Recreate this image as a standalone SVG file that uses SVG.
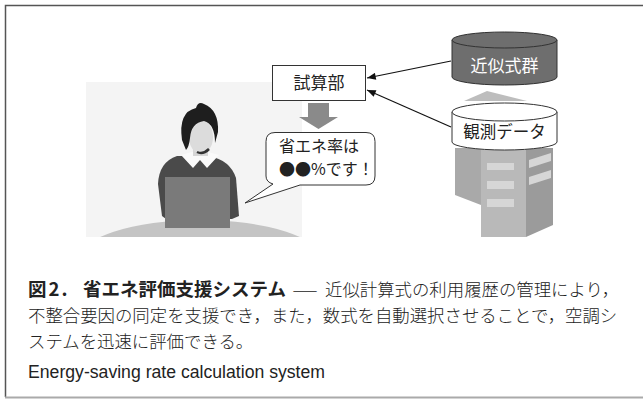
<svg xmlns="http://www.w3.org/2000/svg" width="643" height="399" viewBox="0 0 643 399">
  <defs>
    <style>
      .jp { font-family: "Noto Sans CJK JP", "Noto Sans", sans-serif; fill: #222; }
      .lbl { font-size: 16.5px; }
      .cap { font-size: 17.4px; font-weight: 300; }
      .capb { font-weight: 700; font-size: 18.5px; }
      .en { font-family: "Liberation Sans", Arial, sans-serif; font-size: 17.5px; fill: #222; }
      .edge { stroke: #111; stroke-width: 1.2; fill: none; marker-end: url(#head); }
      .cyl { stroke: #333; stroke-width: 1; }
    </style>
    <marker id="head" viewBox="0 0 10 8" refX="10" refY="4" markerWidth="11" markerHeight="7" markerUnits="userSpaceOnUse" orient="auto">
      <path d="M0,0 L10,4 L0,8 Z" fill="#111"/>
    </marker>
    <clipPath id="scene">
      <rect x="86" y="82" width="216" height="155"/>
    </clipPath>
  </defs>

  <rect width="643" height="399" fill="#fff"/>

  <!-- frame -->
  <g id="frame" fill="none">
    <path d="M5.5,397 V5.5 H643" stroke="#555" stroke-width="1.5"/>
    <path d="M5,397.5 H643" stroke="#aaa" stroke-width="2"/>
  </g>

  <!-- user at a laptop -->
  <g id="user" clip-path="url(#scene)">
    <rect x="86" y="82" width="216" height="155" fill="#f4f4f4"/>
    <ellipse cx="200" cy="260" rx="122" ry="40" fill="#c4c4c4"/>
    <!-- torso and arms -->
    <path d="M162,216 L158,184 Q159,162 177,156 L209,156 Q230,160 236,178 L239,216 L232,219 L166,219 Z" fill="#4a4a4a"/>
    <!-- collar -->
    <path d="M181,155 L193,168 L200,160 L207,168 L219,155 L208,152 L192,152 Z" fill="#fafafa"/>
    <!-- neck and face -->
    <rect x="193" y="146" width="15" height="10" fill="#d6d6d6"/>
    <ellipse cx="201" cy="137" rx="12" ry="17" fill="#dcdcdc"/>
    <!-- hair -->
    <path d="M182,140 Q178,112 196,108 Q198,101 204,104 Q219,110 218,132 L215,143 Q215,124 204,121 Q191,123 190,138 Q189,147 186,150 Z" fill="#1e1e1e"/>
    <!-- headset mic -->
    <path d="M197,152 Q203,155 209,149" stroke="#333" stroke-width="2.5" fill="none"/>
    <!-- laptop -->
    <rect x="165" y="177" width="65" height="51" fill="#7a7a7a"/>
  </g>

  <!-- building under the data stores -->
  <g id="building">
    <polygon points="464,101 487,91 527,101" fill="#bdbdbd"/>
    <polygon points="455,148 481,148 481,205 455,195" fill="#a9a9a9"/>
    <rect x="481" y="148" width="45" height="89" fill="#b9b9b9"/>
    <polygon points="526,148 553,148 553,225 526,237" fill="#9b9b9b"/>
    <g fill="#d6d6d6">
      <rect x="487" y="163" width="27" height="7"/>
      <rect x="487" y="181" width="27" height="8"/>
      <rect x="487" y="199" width="27" height="8"/>
      <polygon points="529,160 551,153 551,161 529,168"/>
      <polygon points="529,177 551,170 551,178 529,185"/>
    </g>
  </g>

  <!-- connectors -->
  <g id="connectors">
    <line class="edge" x1="451" y1="61" x2="367" y2="78"/>
    <line class="edge" x1="451" y1="127" x2="367" y2="90"/>
    <polygon points="308,103 329,103 329,117 338,117 318.5,129 299,117 308,117" fill="#8a8a8a"/>
  </g>

  <!-- calculation unit -->
  <g id="calc">
    <rect x="272.5" y="65.5" width="93" height="35" fill="#fff" stroke="#333" stroke-width="1"/>
    <text class="jp lbl" x="319" y="89" text-anchor="middle" style="font-size:17px">試算部</text>
  </g>

  <!-- speech balloon -->
  <g id="balloon">
    <path d="M275,132.5 H366 Q375,132.5 375,141.5 V176 Q375,185 366,185 H300 L245,203 L273,184 Q266,182 266,176 V141.5 Q266,132.5 275,132.5 Z" fill="#fff" stroke="#333" stroke-width="1"/>
    <text class="jp" x="279" y="152" style="font-size:16px">省エネ率は</text>
    <text class="jp" x="279" y="175" style="font-size:16px">●●%です！</text>
  </g>

  <!-- approximation formula store -->
  <g id="formulas">
    <path class="cyl" d="M452,40 V77 A52.5,8 0 0 0 557,77 V40" fill="#6e6e6e"/>
    <ellipse class="cyl" cx="504.5" cy="40" rx="52.5" ry="8" fill="#6e6e6e"/>
    <text class="jp lbl" x="504.5" y="72" text-anchor="middle" style="fill:#fff;font-size:17px">近似式群</text>
  </g>

  <!-- observation data store -->
  <g id="observed">
    <path class="cyl" d="M452,112 V142 A52.5,8 0 0 0 557,142 V112" fill="#fff"/>
    <ellipse class="cyl" cx="504.5" cy="112" rx="52.5" ry="9" fill="#fff"/>
    <text class="jp lbl" x="504.5" y="138" text-anchor="middle">観測データ</text>
  </g>

  <!-- caption -->
  <g id="caption">
    <text class="jp cap" y="296"><tspan class="capb" x="28" letter-spacing="2">図2.</tspan><tspan class="capb" x="83">省エネ評価支援システム</tspan><tspan x="292" textLength="26" lengthAdjust="spacingAndGlyphs">—</tspan><tspan x="325">近似計算式の利用履歴の管理により，</tspan></text>
    <text class="jp cap" x="28" y="322">不整合要因の同定を支援でき，また，数式を自動選択させることで，空調シ</text>
    <text class="jp cap" x="28" y="348">ステムを迅速に評価できる。</text>
    <text class="en" x="28" y="378" textLength="297" lengthAdjust="spacingAndGlyphs">Energy-saving rate calculation system</text>
  </g>
</svg>
